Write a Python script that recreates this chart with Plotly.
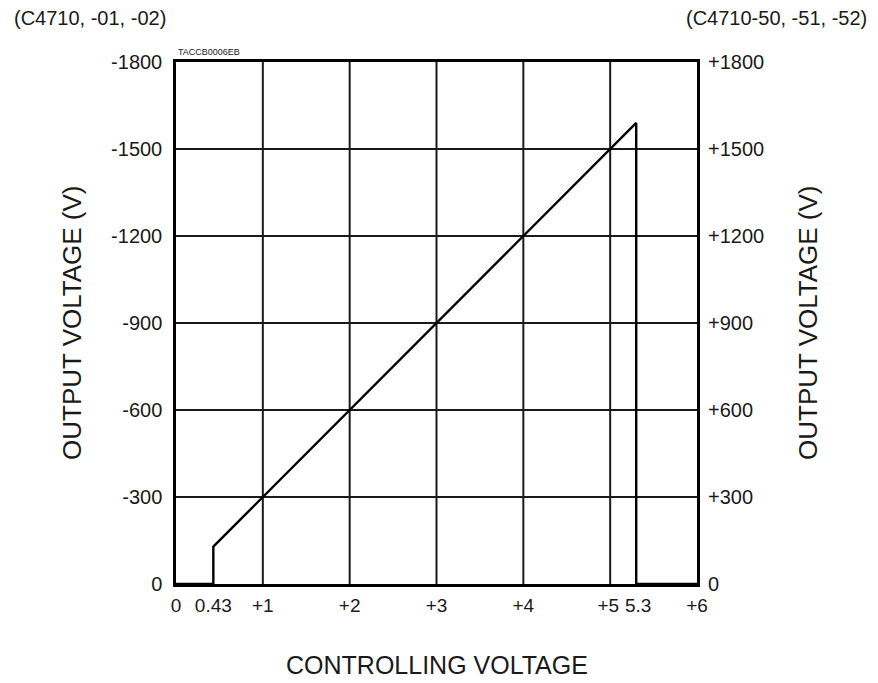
import plotly.graph_objects as go

# Data
control_v = [0, 0.43, 0.43, 5.3, 5.3, 6]
output_v = [0, 0, 129, 1590, 0, 0]

x_tickvals = [0, 0.43, 1, 2, 3, 4, 5, 5.3, 6]
x_ticktext = ["0", "0.43", "+1", "+2", "+3", "+4", "+5\u2009", "\u20095.3", "+6"]
y_tickvals = [0, 300, 600, 900, 1200, 1500, 1800]
y_left_text = ["0", "-300", "-600", "-900", "-1200", "-1500", "-1800"]
y_right_text = ["0", "+300", "+600", "+900", "+1200", "+1500", "+1800"]
grid_x = [1, 2, 3, 4, 5]
grid_y = [300, 600, 900, 1200, 1500]

FONT = "Liberation Sans, Arial, sans-serif"
TICK = 20
TITLE = 26
PW = 521.0  # plot width px
PH = 522.0  # plot height px

fig = go.Figure()
fig.add_trace(go.Scatter(x=control_v, y=output_v, mode="lines",
                         line=dict(color="black", width=2.4), showlegend=False, hoverinfo="skip"))
fig.add_trace(go.Scatter(x=[0, 6], y=[0, 1800], yaxis="y2", mode="lines",
                         line=dict(color="rgba(0,0,0,0)"), showlegend=False, hoverinfo="skip"))

shapes = []
for gx in grid_x:
    shapes.append(dict(type="line", xref="x", yref="y", x0=gx, x1=gx, y0=0, y1=1800,
                       line=dict(color="#1a1a1a", width=2), layer="below"))
for gy in grid_y:
    shapes.append(dict(type="line", xref="x", yref="y", x0=0, x1=6, y0=gy, y1=gy,
                       line=dict(color="#1a1a1a", width=2), layer="below"))

fig.update_layout(
    width=862, height=675,
    margin=dict(l=168, r=173, t=54, b=99, autoexpand=False),
    paper_bgcolor="white", plot_bgcolor="white",
    font=dict(family=FONT, color="#1a1a1a", size=TICK),
    shapes=shapes,
    xaxis=dict(range=[0, 6], tickvals=x_tickvals, ticktext=x_ticktext, tickangle=0,
               showgrid=False, zeroline=False, showline=True, linecolor="black", linewidth=2.5,
               mirror=True, ticks="", tickfont=dict(size=19), ticklabelstandoff=2,
               automargin=False),
    yaxis=dict(range=[0, 1800], tickvals=y_tickvals, ticktext=y_left_text,
               showgrid=False, zeroline=False, showline=True, linecolor="black", linewidth=2.5,
               mirror=True, ticks="", tickfont=dict(size=TICK), ticklabelstandoff=7,
               automargin=False),
    yaxis2=dict(range=[0, 1800], tickvals=y_tickvals, ticktext=y_right_text,
                overlaying="y", side="right", showgrid=False, zeroline=False,
                showline=False, ticks="", tickfont=dict(size=TICK), ticklabelstandoff=10,
                automargin=False),
    annotations=[
        dict(text="(C4710, -01, -02)", xref="paper", yref="paper", x=-164 / PW, y=1.0,
             xanchor="left", yanchor="middle", yshift=44, showarrow=False,
             font=dict(size=20)),
        dict(text="(C4710-50, -51, -52)", xref="paper", yref="paper", x=1 + 172 / PW, y=1.0,
             xanchor="right", yanchor="middle", yshift=44, showarrow=False,
             font=dict(size=20)),
        dict(text="TACCB0006EB", xref="paper", yref="paper", x=0, y=1.0,
             xanchor="left", yanchor="bottom", yshift=3, showarrow=False,
             font=dict(size=9)),
        dict(text="OUTPUT VOLTAGE (V)", xref="paper", yref="paper", x=-104 / PW, y=0.5,
             xanchor="center", yanchor="middle", textangle=-90, showarrow=False,
             font=dict(size=TITLE)),
        dict(text="OUTPUT VOLTAGE (V)", xref="paper", yref="paper", x=1 + 111 / PW, y=0.5,
             xanchor="center", yanchor="middle", textangle=-90, showarrow=False,
             font=dict(size=TITLE)),
        dict(text="CONTROLLING VOLTAGE", xref="paper", yref="paper", x=0.5, y=-81 / PH,
             xanchor="center", yanchor="middle", showarrow=False,
             font=dict(size=25)),
    ],
)

fig.write_html("out.html")
